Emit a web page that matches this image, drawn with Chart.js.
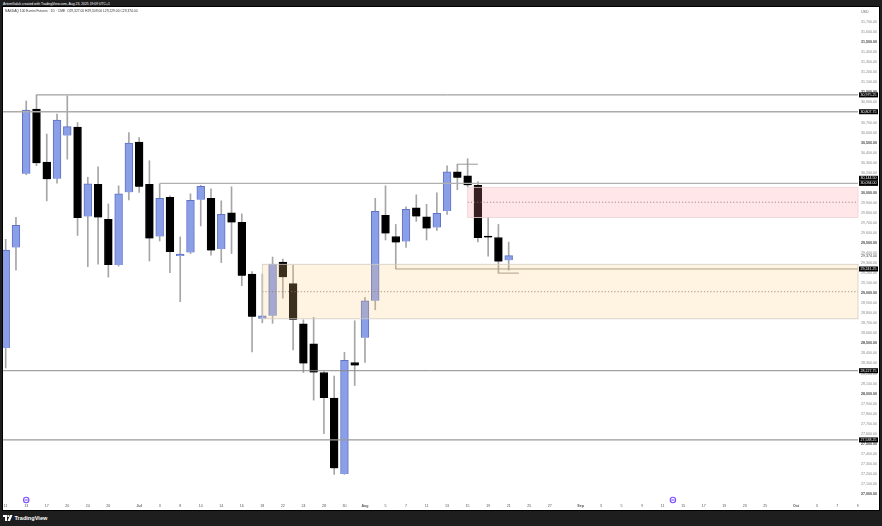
<!DOCTYPE html>
<html>
<head>
<meta charset="utf-8">
<title>NASDAQ 100 E-mini Futures</title>
<script src="https://cdn.jsdelivr.net/npm/chart.js@4"></script>
<style>
  html,body{margin:0;padding:0;width:882px;height:526px;background:#1e1e1e;overflow:hidden;font-family:"Liberation Sans",Arial,sans-serif}
  #panel{position:absolute;left:2px;top:6px;width:876px;height:503px;border:1px solid #000;background:#fff}
  #chart{position:absolute;left:0;top:0}
  #credit{position:absolute;left:3px;top:1.5px;font-size:3.4px;line-height:4px;color:#fff;white-space:nowrap}
  #legend{position:absolute;left:2px;top:2px;font-size:3.3px;line-height:4px;color:#333;white-space:nowrap}
  #brand{position:absolute;left:3px;top:514px;height:8px;display:flex;align-items:center;gap:1.5px;color:#fff;font-size:5.6px;font-weight:bold;line-height:8px}
</style>
</head>
<body>
<div id="credit">ArtemGaluk created with TradingView.com, Aug 23, 2025 19:09 UTC+1</div>
<div id="panel">
  <canvas id="chart" width="876" height="503"></canvas>
  <div id="legend">NASDAQ 100 E-mini Futures · 1D · CME &nbsp;O29,327.00 H29,509.00 L29,229.00 C29,374.00</div>
</div>
<div id="brand">
  <svg width="10" height="6" viewBox="0 0 20 12"><path d="M0 0h8v12H4V4H0zM9 12l5-12h5l-5 12z" fill="#fff"/><circle cx="10.5" cy="2" r="2" fill="#fff"/></svg>
  <span>TradingView</span>
</div>
<script>
// daily candles, one entry per bar
const opens  = [28455,29455,30190,30835,30305,30140,30570,30655,29765,30085,29735,29280,30005,30505,30085,29565,29955,29370,29405,29930,29945,29440,29800,29705,29190,28745,28775,29310,29095,28695,28495,28210,27955,27200,28310,28555,28925,29775,29565,29515,29850,29760,29655,29820,30210,30170,30075,29570,29555,29327];
const closes = [29430,29675,30825,30295,30135,30725,30660,29750,30090,29755,29280,29990,30495,30060,29545,29945,29410,29390,29925,30065,29425,29785,29705,29175,28765,28775,29290,29160,28735,28300,28210,27955,27255,28330,28280,28925,29815,29595,29505,29835,29765,29645,29795,30210,30150,30075,29550,29555,29315,29374];
const highs  = [29537,29755,30915,30975,30585,30785,30965,30700,30155,30260,29890,30070,30600,30550,30320,30090,29970,29560,29990,30075,30040,29920,30060,29790,29215,29190,29360,29340,29280,28735,28760,28220,28175,28410,28725,28960,29945,30070,29685,29860,29980,29885,30000,30270,30285,30340,30110,29755,29685,29509];
const lows   = [28255,29230,30180,30270,29920,30095,30335,29575,29265,29290,29160,29270,29930,30005,29320,29520,29205,28915,29395,29670,29380,29305,29395,29075,28415,28705,28700,28950,28435,28210,27935,27600,27195,27195,28080,28310,28835,29530,29241.25,29455,29715,29530,29625,29785,30030,30060,29510,29370,29200,29229];

// x axis labels: bar number and text
const tickBars = [0,2,4,6,8,10,13,15,17,19,21,23,25,27,29,31,33,35,37,39,41,43,45,47,49,51,53,56,58,60,62,64,66,68,70,72,74,77,79,81,83];
const tickText = ['11','13','17','20','24','26','Jul','3','8','10','14','16','18','22','24','28','30','Aug','5','7','11','13','15','19','21','25','27','Sep','3','5','9','11','15','17','19','23','25','Oct','3','7','9'];
const monthText = ['Jul','Aug','Sep','Oct'];

// horizontal levels
const levelPrices = [30975.25,30807.75,30094,29241.25,28227.75,27538.25,30285,29200];
const levelStart  = [3,-1,15,38,-1,-1,44,48];
const levelEnd    = [90,90,90,90,90,90,46,50];
const levelColors = ['#8a8a8a','#ababab','#b0b0b0','#96968a','#8a8a8a','#9a9a9a','#999999','#96968a'];
const levelWidths = [1,1.4,1.4,1,1,1.2,1,1];

// zones: start bar, top, middle, bottom
const zoneStart = [45,25];
const zoneTop   = [30055,29288];
const zoneMid   = [29906,29015];
const zoneBot   = [29754,28745];
const zoneFill  = ['rgba(255,140,150,.22)','rgba(255,205,125,.23)'];
const zoneEdge  = ['#ecd3d6','#d0ccc4'];

// price tags on the axis
const tagPrices = [30975.25,30807.75,30144.5,30094,29241.25,28227.75,27538.25];
const lastPrice = 29374;
const eventBars = [2,65];

const fmt = v => v.toLocaleString('en-US',{minimumFractionDigits:2,maximumFractionDigits:2});
const bars = opens.map((o,i)=>i);
const xMin = -0.263, xMax = 83.03;

const levelSets = levelPrices.map((p,i)=>({
  type:'line', order:0, borderColor:levelColors[i], borderWidth:levelWidths[i], pointRadius:0,
  data:[{x:levelStart[i],y:p},{x:levelEnd[i],y:p}]
}));
const midSets = zoneMid.map((p,i)=>({
  type:'line', order:0, borderColor:'#6f6a62', borderWidth:0.8, borderDash:[1.2,2], pointRadius:0,
  data:[{x:zoneStart[i],y:p},{x:90,y:p}]
}));

// zones go over the candles, tags and icons over everything
const overlays = {
  id:'overlays',
  afterDatasetsDraw(c){
    const {ctx,scales:{x,y},chartArea:a} = c;
    ctx.save();
    zoneStart.forEach((s,i)=>{
      const l = x.getPixelForValue(s), t = y.getPixelForValue(zoneTop[i]), b = y.getPixelForValue(zoneBot[i]);
      ctx.fillStyle = zoneFill[i];
      ctx.fillRect(l,t,a.right-l,b-t);
      ctx.strokeStyle = zoneEdge[i]; ctx.lineWidth = 0.8;
      ctx.strokeRect(l,t,a.right-l,b-t);
    });
    ctx.restore();
  },
  afterDraw(c){
    const {ctx,scales:{x,y},chartArea:a} = c;
    ctx.save();
    ctx.textBaseline='middle'; ctx.textAlign='left';
    ctx.font='3.6px "Liberation Sans"';
    ctx.fillStyle='#666';
    ctx.fillText('USD',a.right+3,4.5);
    ctx.fillStyle='#444';
    ctx.fillText(fmt(lastPrice),a.right+3,y.getPixelForValue(lastPrice));
    tagPrices.forEach(p=>{
      const py = y.getPixelForValue(p);
      ctx.fillStyle='#000'; ctx.fillRect(a.right+1,py-2.5,19,5);
      ctx.fillStyle='#fff'; ctx.fillText(fmt(p),a.right+2.5,py);
    });
    eventBars.forEach(b=>{
      const px = x.getPixelForValue(b), py = a.bottom-3;
      ctx.strokeStyle='#7c4dff'; ctx.lineWidth=1.1;
      ctx.beginPath(); ctx.arc(px,py,2.7,0,Math.PI*2); ctx.stroke();
      ctx.beginPath(); ctx.moveTo(px-1.6,py); ctx.lineTo(px+1.6,py); ctx.stroke();
    });
    ctx.restore();
  }
};

const isMonth = v => monthText.includes(tickText[tickBars.indexOf(v)]);
const isMajor = v => v%500===0;

new Chart(document.getElementById('chart'),{
  type:'bar',
  plugins:[overlays],
  data:{
    datasets:[
      ...levelSets,
      ...midSets,
      { order:1, grouped:false, barThickness:7.8, borderWidth:1,
        backgroundColor:opens.map((o,i)=>closes[i]>o?'#8a9fe8':'#000'),
        borderColor:opens.map((o,i)=>closes[i]>o?'#5f72c4':'#000'),
        data:bars.map(i=>({x:i,y:[opens[i],closes[i]]})) },
      { order:2, grouped:false, barThickness:1, borderWidth:0, backgroundColor:'#a6a6a6',
        data:bars.map(i=>({x:i,y:[lows[i],highs[i]]})) }
    ]
  },
  options:{
    responsive:false, animation:false, devicePixelRatio:1,
    layout:{padding:0},
    plugins:{legend:{display:false},tooltip:{enabled:false}},
    scales:{
      x:{
        type:'linear', min:xMin, max:xMax, offset:false,
        border:{display:false}, grid:{display:false,drawTicks:false,offset:false},
        afterBuildTicks(s){ s.ticks = tickBars.map(v=>({value:v})); },
        afterFit(s){ s.height = 7; s.paddingLeft = 0; s.paddingRight = 0; },
        ticks:{
          autoSkip:false, maxRotation:0, padding:1, color:'#555',
          font:ctx=>({size:3.6,family:'"Liberation Sans"',weight:ctx.tick&&isMonth(ctx.tick.value)?'bold':'normal'}),
          callback:v=>tickText[tickBars.indexOf(v)]
        }
      },
      y:{
        type:'linear', position:'right', min:26910, max:31851,
        border:{display:false}, grid:{display:false,drawTicks:false},
        afterBuildTicks(s){ s.ticks = s.ticks.filter(t=>t.value%100===0&&t.value>=27000&&t.value<=31700); },
        afterFit(s){ s.width = 21; s.paddingTop = 0; s.paddingBottom = 0; },
        ticks:{
          stepSize:100, includeBounds:false, autoSkip:false, padding:3,
          color:ctx=>ctx.tick&&isMajor(ctx.tick.value)?'#444':'#888',
          font:ctx=>({size:3.6,family:'"Liberation Sans"',weight:ctx.tick&&isMajor(ctx.tick.value)?'bold':'normal'}),
          callback:v=>fmt(v)
        }
      }
    }
  }
});
</script>
</body>
</html>
